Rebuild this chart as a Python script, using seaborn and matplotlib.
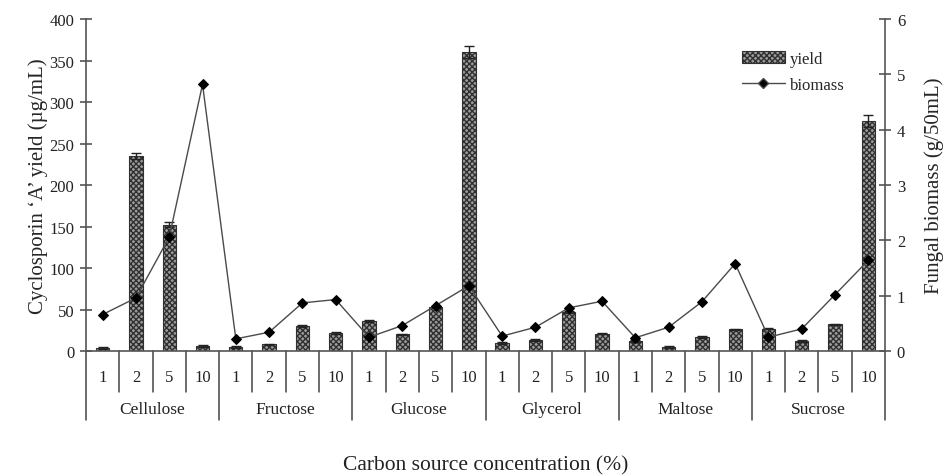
import numpy as np
import pandas as pd
import matplotlib
matplotlib.use("Agg")
import matplotlib.pyplot as plt
import matplotlib.transforms as mtrans
from matplotlib.lines import Line2D
from matplotlib.patches import Patch
import seaborn as sns

sources = ["Cellulose", "Fructose", "Glucose", "Glycerol", "Maltose", "Sucrose"]
concentrations = ["1", "2", "5", "10"]
yield_vals = [4, 235, 152, 6,
              5, 8, 30, 22,
              36, 20, 53, 360,
              10, 13, 47, 21,
              12, 5, 17, 26,
              27, 12, 32, 277]
yield_err = [1, 4, 3, 1,
             1, 1, 1, 1,
             1, 1, 1, 7,
             1, 1, 1, 1,
             1, 1, 1, 1,
             1, 1, 1, 7]
biomass = [0.66, 0.96, 2.06, 4.82,
           0.22, 0.34, 0.87, 0.93,
           0.25, 0.46, 0.82, 1.18,
           0.27, 0.43, 0.78, 0.90,
           0.24, 0.43, 0.89, 1.58,
           0.25, 0.40, 1.02, 1.64]

n_conc = len(concentrations)
df = pd.DataFrame({
    "pos": np.arange(len(yield_vals)),
    "source": np.repeat(sources, n_conc),
    "conc": concentrations * len(sources),
    "yield": yield_vals,
    "err": yield_err,
    "biomass": biomass,
})

sns.set_theme(style="white")
plt.rcParams["font.family"] = ["Liberation Serif", "DejaVu Serif"]
plt.rcParams["hatch.linewidth"] = 1.0

BAR_FACE = "#9c9c9c"
BAR_EDGE = "#303030"
HATCH = "xxxxxx"

fig = plt.figure(figsize=(9.43, 4.77), dpi=100)
ax = fig.add_axes([0.0912, 0.262, 0.8473, 0.696])

sns.barplot(data=df, x="pos", y="yield", ax=ax, color=BAR_FACE,
            width=0.4, errorbar=None, saturation=1)
for p in ax.patches:
    p.set_hatch(HATCH)
    p.set_edgecolor(BAR_EDGE)
    p.set_linewidth(0.8)
ax.errorbar(df["pos"], df["yield"], yerr=df["err"], fmt="none",
            ecolor="#222222", elinewidth=1, capsize=3.5, capthick=1)

ax2 = ax.twinx()
sns.lineplot(data=df, x="pos", y="biomass", ax=ax2, color="#4a4a4a",
             marker="D", markersize=5.5, markerfacecolor="black",
             markeredgecolor="black", linewidth=1.0)

ax.set_xlim(-0.5, len(yield_vals) - 0.5)
ax.set_ylim(0, 400)
ax2.set_ylim(0, 6)
ax.set_yticks(np.arange(0, 401, 50))
ax2.set_yticks(np.arange(0, 7, 1))

for a in (ax, ax2):
    for s in a.spines.values():
        s.set_color("#555555")
        s.set_linewidth(1.2)
    a.spines["top"].set_visible(False)
    a.tick_params(axis="y", direction="inout", length=9, width=1.2,
                  color="#555555", labelsize=12, labelcolor="#222222")
ax.spines["right"].set_visible(False)
ax2.spines["left"].set_visible(False)
ax2.spines["bottom"].set_visible(False)
ax.tick_params(axis="y", pad=4)
ax2.tick_params(axis="y", pad=4)

ax.set_xticks([])
ax.set_xlabel("")
ax2.set_xlabel("")
ax.set_ylabel("Cyclosporin \u2018A\u2019 yield (\u00b5g/mL)", fontsize=15, labelpad=1)
ax2.set_ylabel("Fungal biomass (g/50mL)", fontsize=15, labelpad=14)
ax.grid(False)
ax2.grid(False)

# category axis below
trans = mtrans.blended_transform_factory(ax.transData, ax.transAxes)
h = 332.0  # axes height in px
minor_bottom = -41 / h
major_bottom = -69 / h
for i in range(len(yield_vals) + 1):
    x = i - 0.5
    bottom = major_bottom if i % n_conc == 0 else minor_bottom
    ax.add_line(Line2D([x, x], [0, bottom], transform=trans, color="#444444",
                       linewidth=1.1, clip_on=False))
for i, c in enumerate(df["conc"]):
    ax.text(i, -26 / h, c, transform=trans, ha="center", va="center",
            fontsize=12, color="#222222")
for g, name in enumerate(sources):
    ax.text(g * n_conc + (n_conc - 1) / 2, -58 / h, name, transform=trans,
            ha="center", va="center", fontsize=12.5, color="#222222")
ax.text(0.5, -114 / h, "Carbon source concentration (%)", transform=ax.transAxes,
        ha="center", va="center", fontsize=15.5, color="#222222")

handles = [Patch(facecolor=BAR_FACE, edgecolor=BAR_EDGE, hatch=HATCH, linewidth=0.8),
           Line2D([0], [0], color="#4a4a4a", marker="D", markersize=5.5,
                  markerfacecolor="black", linewidth=1.0)]
ax2.legend(handles, ["yield", "biomass"], loc="upper left",
           bbox_to_anchor=(0.802, 0.95), frameon=False, fontsize=12,
           handlelength=2.6, handletextpad=0.3, labelspacing=0.6)

fig.savefig("out.png", dpi=100)
